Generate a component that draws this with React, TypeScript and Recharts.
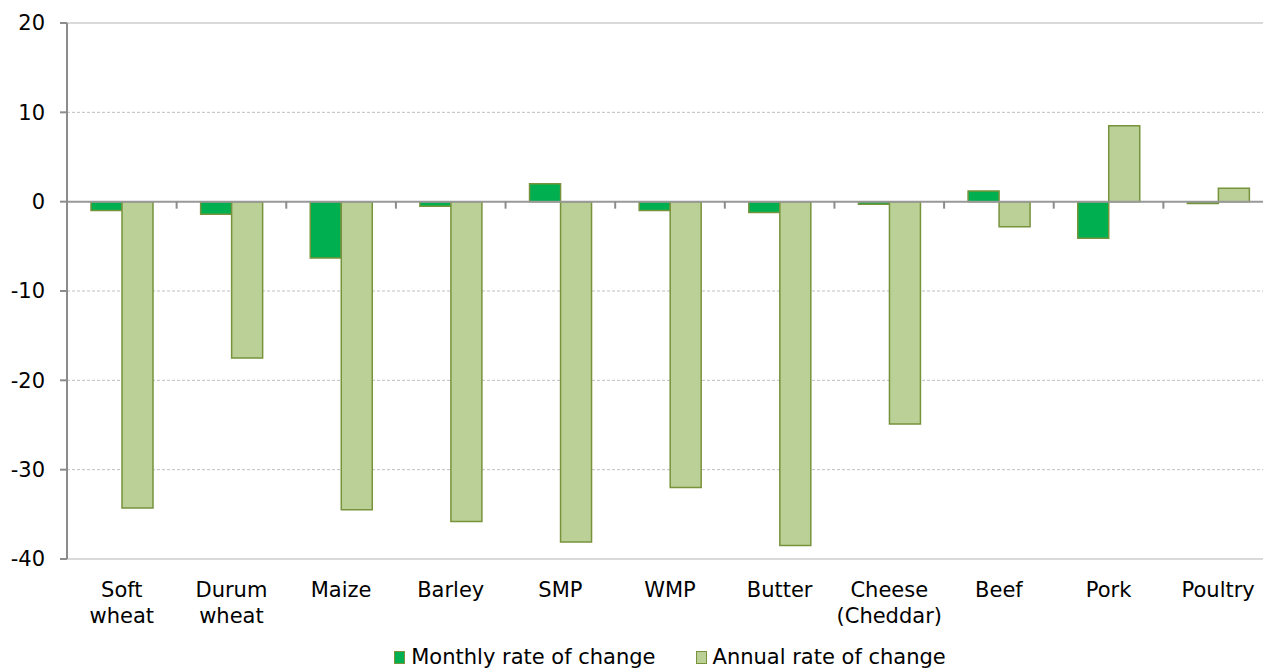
import React from 'react';
import { BarChart, Bar, XAxis, YAxis, CartesianGrid, ReferenceLine } from 'recharts';

const categories = [
  'Soft\nwheat',
  'Durum\nwheat',
  'Maize',
  'Barley',
  'SMP',
  'WMP',
  'Butter',
  'Cheese\n(Cheddar)',
  'Beef',
  'Pork',
  'Poultry',
];
const monthlyChange = [-1.0, -1.4, -6.3, -0.5, 2.0, -1.0, -1.2, -0.3, 1.2, -4.1, -0.2];
const annualChange = [-34.3, -17.5, -34.5, -35.8, -38.1, -32.0, -38.5, -24.9, -2.8, 8.5, 1.5];
const yTicks = [-40, -30, -20, -10, 0, 10, 20];

const data = categories.map((name, i) => ({
  name,
  monthly: monthlyChange[i],
  annual: annualChange[i],
}));

const FONT = '"DejaVu Sans", Verdana, sans-serif';
const OLIVE = '#77933C';
const DARK_GREEN = '#00B050';
const LIGHT_GREEN = '#BBD097';

const CategoryTick = (props: any) => {
  const { x, y, payload } = props;
  const lines = String(payload.value).split('\n');
  return (
    <text x={x} y={y + 38} textAnchor="middle" fill="#000" fontSize={21} fontFamily={FONT}>
      {lines.map((line, i) => (
        <tspan key={i} x={x} dy={i === 0 ? 0 : 25.5}>
          {line}
        </tspan>
      ))}
    </text>
  );
};

// zero line plus the small tick marks between categories
const ZeroLine = (props: any) => {
  const { x1, y1, x2, y2 } = props;
  if (x1 == null) return null;
  const step = (x2 - x1) / categories.length;
  const marks = [];
  for (let i = 1; i < categories.length; i++) {
    const x = x1 + step * i;
    marks.push(<line key={i} x1={x} x2={x} y1={y1} y2={y1 + 7} stroke="#8C8C8C" strokeWidth={2} />);
  }
  return (
    <g>
      <line x1={x1} y1={y1} x2={x2} y2={y2} stroke="#999999" strokeWidth={2} />
      {marks}
    </g>
  );
};

const legendItems = [
  { label: 'Monthly rate of change', fill: DARK_GREEN },
  { label: 'Annual rate of change', fill: LIGHT_GREEN },
];

export default function App() {
  return (
    <div
      style={{
        position: 'absolute',
        left: 0,
        top: 0,
        width: 1263,
        height: 668,
        overflow: 'hidden',
        background: '#fff',
        fontFamily: FONT,
      }}
    >
      <BarChart
        width={1280}
        height={668}
        data={data}
        margin={{ top: 23, right: 7, bottom: 39, left: 0 }}
        barGap={0}
      >
        <CartesianGrid vertical={false} stroke="#BFBFBF" strokeDasharray="3 2" />
        <XAxis
          dataKey="name"
          axisLine={false}
          tickLine={false}
          tickSize={0}
          tickMargin={0}
          height={70}
          interval={0}
          tick={<CategoryTick />}
        />
        <YAxis
          type="number"
          domain={[-40, 20]}
          ticks={yTicks}
          width={67}
          axisLine={{ stroke: '#8C8C8C', strokeWidth: 2 }}
          tickLine={{ stroke: '#8C8C8C', strokeWidth: 2 }}
          tickSize={7}
          tickMargin={15}
          tick={{ fill: '#000', fontSize: 21, fontFamily: FONT }}
        />
        <ReferenceLine y={20} stroke="#D9D9D9" strokeWidth={2} />
        <ReferenceLine y={-40} stroke="#D9D9D9" strokeWidth={2} />
        <Bar
          dataKey="monthly"
          name="Monthly rate of change"
          fill={DARK_GREEN}
          stroke={OLIVE}
          strokeWidth={1.5}
          barSize={31}
          isAnimationActive={false}
        />
        <Bar
          dataKey="annual"
          name="Annual rate of change"
          fill={LIGHT_GREEN}
          stroke={OLIVE}
          strokeWidth={1.5}
          barSize={31}
          isAnimationActive={false}
        />
        <ReferenceLine y={0} shape={<ZeroLine />} />
      </BarChart>
      <div
        style={{
          position: 'absolute',
          left: 0,
          top: 645,
          width: 1340,
          display: 'flex',
          justifyContent: 'center',
          gap: 40,
          fontSize: 21,
          lineHeight: '24px',
          color: '#000',
        }}
      >
        {legendItems.map(item => (
          <div key={item.label} style={{ display: 'flex', alignItems: 'center' }}>
            <span
              style={{
                display: 'inline-block',
                width: 9,
                height: 11,
                background: item.fill,
                border: `1px solid ${OLIVE}`,
                marginRight: 6,
              }}
            />
            <span>{item.label}</span>
          </div>
        ))}
      </div>
    </div>
  );
}
